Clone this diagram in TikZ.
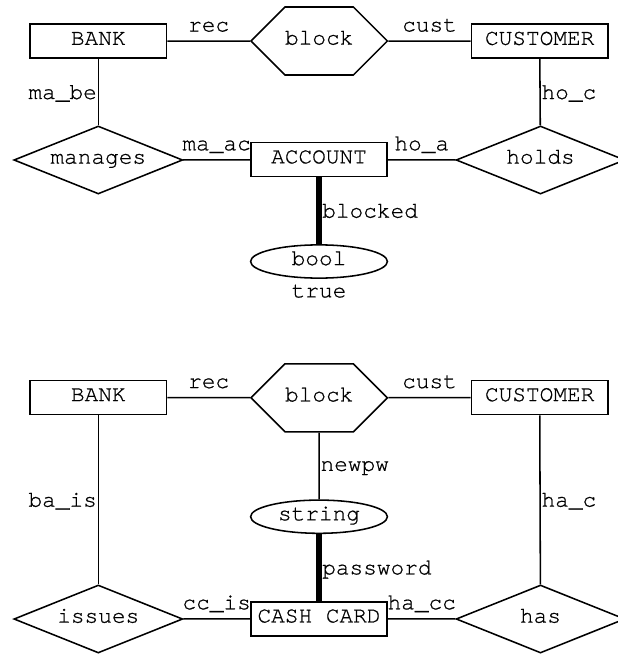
\documentclass[tikz,border=0pt]{standalone}
\usepackage{fontspec}
\setmonofont[RawFeature={embolden=0.7}]{TeX Gyre Cursor}
\usetikzlibrary{positioning,shapes.geometric,shapes.symbols}

\begin{document}
\begin{tikzpicture}[
  x=0.025cm, y=-0.025cm,
  font=\ttfamily\fontsize{16.2}{19}\selectfont,
  ent/.style={draw, line width=1.1pt, minimum width=3.41cm, minimum height=0.85cm, inner sep=0pt, text height=0.52em, text depth=0pt},
  rel/.style={diamond, draw, line width=1.1pt, aspect=2.5, minimum width=4.22cm, minimum height=1.7cm, inner sep=0pt, text height=0.52em, text depth=0pt},
  op/.style={signal, signal to=east and west, signal pointer angle=90, draw, line width=1.1pt, minimum width=3.37cm, minimum height=1.7cm, inner sep=0pt, text height=0.52em, text depth=0pt},
  val/.style={ellipse, draw, line width=1.1pt, minimum width=3.42cm, minimum height=0.83cm, inner sep=0pt, text height=0.52em, text depth=0pt},
  ln/.style={line width=1.1pt},
  key/.style={line width=3.6pt},
  tag/.style={inner xsep=0.5pt, inner ysep=0.22cm, text depth=0pt}
]
\useasboundingbox (0,0) rectangle (617,656);
% account
\node[ent] (bank) at (98.3,41.2) {BANK};
\node[op] (blk) at (319.2,41) {block};
\node[ent] (cust) at (539.7,41.2) {CUSTOMER};
\node[rel] (mng) at (98.3,160) {manages};
\node[ent] (acc) at (319,159.7) {ACCOUNT};
\node[rel] (hld) at (540.5,160) {holds};
\node[val] (bool) at (319,261.5) {bool};
\node[inner sep=1pt, below=0.1cm of bool] (tv) {true};
\draw[ln] (bank) -- node[tag, above] {rec} (blk);
\draw[ln] (blk) -- node[tag, above] {cust} (cust);
\draw[ln] (bank) -- node[tag, left] {ma\_be} (mng);
\draw[ln] (cust) -- node[tag, right] {ho\_c} (hld);
\draw[ln] (mng) -- node[tag, above] {ma\_ac} (acc);
\draw[ln] (acc) -- node[tag, above] {ho\_a} (hld);
\draw[key] (acc) -- node[tag, right] {blocked} (bool);
% cash card
\node[ent] (bank2) at (98.3,397.5) {BANK};
\node[op] (blk2) at (319.2,397.8) {block};
\node[ent] (cust2) at (539.7,397.5) {CUSTOMER};
\node[val] (str) at (319,516.7) {string};
\node[rel] (iss) at (98.3,619) {issues};
\node[ent] (card) at (319,618.8) {CASH CARD};
\node[rel] (has) at (540.5,619) {has};
\draw[ln] (bank2) -- node[tag, above] {rec} (blk2);
\draw[ln] (blk2) -- node[tag, above] {cust} (cust2);
\draw[ln] (bank2) -- node[tag, left] {ba\_is} (iss);
\draw[ln] (cust2) -- node[tag, right] {ha\_c} (has);
\draw[ln] (blk2) -- node[tag, right] {newpw} (str);
\draw[key] (str) -- node[tag, right] {password} (card);
\draw[ln] (iss) -- node[tag, above] {cc\_is} (card);
\draw[ln] (card) -- node[tag, above] {ha\_cc} (has);
\end{tikzpicture}
\end{document}
